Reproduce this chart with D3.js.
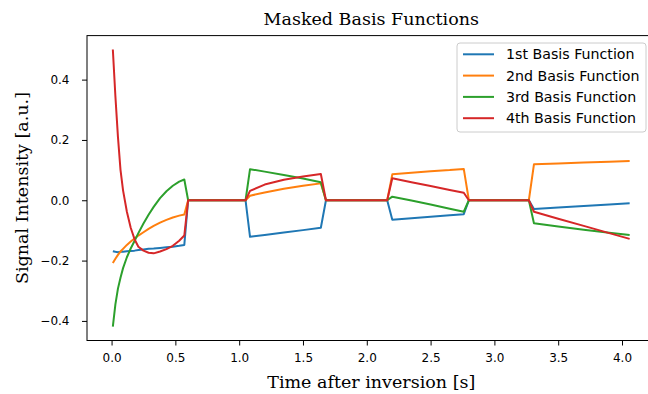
<!DOCTYPE html>
<html>
<head>
<meta charset="utf-8">
<script src="https://cdn.jsdelivr.net/npm/d3@7"></script>
<style>
  body { margin: 0; background: #fff; }
  svg { display: block; }
</style>
</head>
<body>
<svg id="chart" width="648" height="394"></svg>
<script>
// Sample times after inversion [s]
const time = [
  0.01, 0.03, 0.05, 0.07, 0.09, 0.12, 0.15, 0.18, 0.21, 0.25, 0.29, 0.33,
  0.38, 0.43, 0.48, 0.53, 0.57,
  0.60, 1.05,
  1.085, 1.20, 1.35, 1.50, 1.64,
  1.68, 2.16,
  2.20, 2.35, 2.50, 2.65, 2.76,
  2.80, 3.27,
  3.31, 3.50, 3.70, 3.90, 4.06
];

// Masked basis function values [a.u.], one entry per sample time
const basis1 = [
  -0.169, -0.171, -0.172, -0.171, -0.171, -0.169, -0.168, -0.167, -0.165, -0.163, -0.161, -0.160,
  -0.158, -0.156, -0.154, -0.151, -0.148,
  0, 0,
  -0.121, -0.115, -0.107, -0.099, -0.091,
  0, 0,
  -0.065, -0.060, -0.055, -0.050, -0.046,
  0, 0,
  -0.029, -0.024, -0.019, -0.014, -0.010
];
const basis2 = [
  -0.208, -0.194, -0.181, -0.170, -0.161, -0.148, -0.137, -0.127, -0.117, -0.106, -0.095, -0.085,
  -0.074, -0.065, -0.057, -0.051, -0.047,
  0, 0,
  0.015, 0.026, 0.038, 0.048, 0.056,
  0, 0,
  0.086, 0.091, 0.096, 0.100, 0.104,
  0, 0,
  0.119, 0.122, 0.125, 0.128, 0.130
];
const basis3 = [
  -0.419, -0.345, -0.293, -0.257, -0.225, -0.189, -0.160, -0.135, -0.109, -0.077, -0.048, -0.022,
  0.007, 0.030, 0.048, 0.062, 0.069,
  0, 0,
  0.103, 0.095, 0.084, 0.072, 0.060,
  0, 0,
  0.012, -0.001, -0.014, -0.028, -0.038,
  0, 0,
  -0.076, -0.087, -0.098, -0.108, -0.115
];
const basis4 = [
  0.500, 0.345, 0.210, 0.101, 0.033, -0.038, -0.091, -0.129, -0.154, -0.167, -0.174, -0.176,
  -0.170, -0.162, -0.151, -0.134, -0.117,
  0, 0,
  0.031, 0.052, 0.068, 0.079, 0.087,
  0, 0,
  0.073, 0.060, 0.047, 0.034, 0.025,
  0, 0,
  -0.038, -0.061, -0.085, -0.109, -0.128
];

const seriesNames = ["1st Basis Function", "2nd Basis Function", "3rd Basis Function", "4th Basis Function"];
const seriesValues = [basis1, basis2, basis3, basis4];
const seriesColors = ["#1f77b4", "#ff7f0e", "#2ca02c", "#d62728"];

const xTicks = [0, 0.5, 1.0, 1.5, 2.0, 2.5, 3.0, 3.5, 4.0];
const yTicks = [-0.4, -0.2, 0.0, 0.2, 0.4];

const titleText = "Masked Basis Functions";
const xLabel = "Time after inversion [s]";
const yLabel = "Signal Intensity [a.u.]";

// ---- layout ----
const plot = { left: 87, right: 655.5, top: 35.6, bottom: 340.5 };
const svg = d3.select("#chart");

// axis limits padded by 5% of the data span on each side
function padded(extent) {
  const span = extent[1] - extent[0];
  return [extent[0] - 0.05 * span, extent[1] + 0.05 * span];
}
const allValues = seriesValues.flat();
const x = d3.scaleLinear().domain(padded(d3.extent(time))).range([plot.left, plot.right]);
const y = d3.scaleLinear().domain(padded(d3.extent(allValues))).range([plot.bottom, plot.top]);

svg.append("defs").append("clipPath").attr("id", "plot-clip")
  .append("rect")
  .attr("x", plot.left).attr("y", plot.top)
  .attr("width", plot.right - plot.left).attr("height", plot.bottom - plot.top);

// ---- lines ----
const line = d3.line()
  .x((d, i) => x(time[i]))
  .y(d => y(d));

const lines = svg.append("g").attr("clip-path", "url(#plot-clip)");
seriesValues.forEach((vals, k) => {
  lines.append("path")
    .datum(vals)
    .attr("d", line)
    .attr("fill", "none")
    .attr("stroke", seriesColors[k])
    .attr("stroke-width", 2)
    .attr("stroke-linejoin", "round")
    .attr("stroke-linecap", "butt");
});

// ---- axes ----
const fmt = d3.format(".1f");
const xAxis = svg.append("g")
  .attr("transform", `translate(0,${plot.bottom})`)
  .call(d3.axisBottom(x).tickValues(xTicks).tickFormat(fmt).tickSize(5).tickPadding(7.5).tickSizeOuter(0));
const yAxis = svg.append("g")
  .attr("transform", `translate(${plot.left},0)`)
  .call(d3.axisLeft(y).tickValues(yTicks).tickFormat(fmt).tickSize(5).tickPadding(12.5).tickSizeOuter(0));

[xAxis, yAxis].forEach(g => {
  g.select(".domain").remove();
  g.selectAll(".tick line").attr("stroke", "#000").attr("stroke-width", 1);
  g.selectAll(".tick text")
    .attr("fill", "#000")
    .style("font-family", "'DejaVu Sans', sans-serif")
    .style("font-size", "12px");
});

// frame around the plotting area
svg.append("rect")
  .attr("x", plot.left).attr("y", plot.top)
  .attr("width", plot.right - plot.left).attr("height", plot.bottom - plot.top)
  .attr("fill", "none").attr("stroke", "#000").attr("stroke-width", 1);

// ---- titles ----
const midX = (plot.left + plot.right) / 2;
const serif = "'DejaVu Serif', serif";
svg.append("text")
  .attr("x", midX).attr("y", 25)
  .attr("text-anchor", "middle")
  .style("font-family", serif)
  .style("font-size", "17.5px")
  .text(titleText);

svg.append("text")
  .attr("x", midX).attr("y", 388)
  .attr("text-anchor", "middle")
  .style("font-family", serif)
  .style("font-size", "17.5px")
  .text(xLabel);

svg.append("text")
  .attr("transform", `translate(28,${(plot.top + plot.bottom) / 2}) rotate(-90)`)
  .attr("text-anchor", "middle")
  .style("font-family", serif)
  .style("font-size", "17.5px")
  .text(yLabel);

// ---- legend ----
const legend = { x: 457, y: 43, w: 189, h: 89, rowH: 21.3, firstRow: 54.3 };
const lg = svg.append("g");
lg.append("rect")
  .attr("x", legend.x).attr("y", legend.y)
  .attr("width", legend.w).attr("height", legend.h)
  .attr("rx", 3)
  .attr("fill", "#fff").attr("fill-opacity", 0.8)
  .attr("stroke", "#ccc").attr("stroke-width", 1);

seriesNames.forEach((name, k) => {
  const cy = legend.firstRow + k * legend.rowH;
  lg.append("line")
    .attr("x1", 463).attr("x2", 494)
    .attr("y1", cy).attr("y2", cy)
    .attr("stroke", seriesColors[k]).attr("stroke-width", 2);
  lg.append("text")
    .attr("x", 506).attr("y", cy)
    .attr("dy", "0.36em")
    .style("font-family", "'DejaVu Sans', sans-serif")
    .style("font-size", "14.2px")
    .text(name);
});
</script>
</body>
</html>
